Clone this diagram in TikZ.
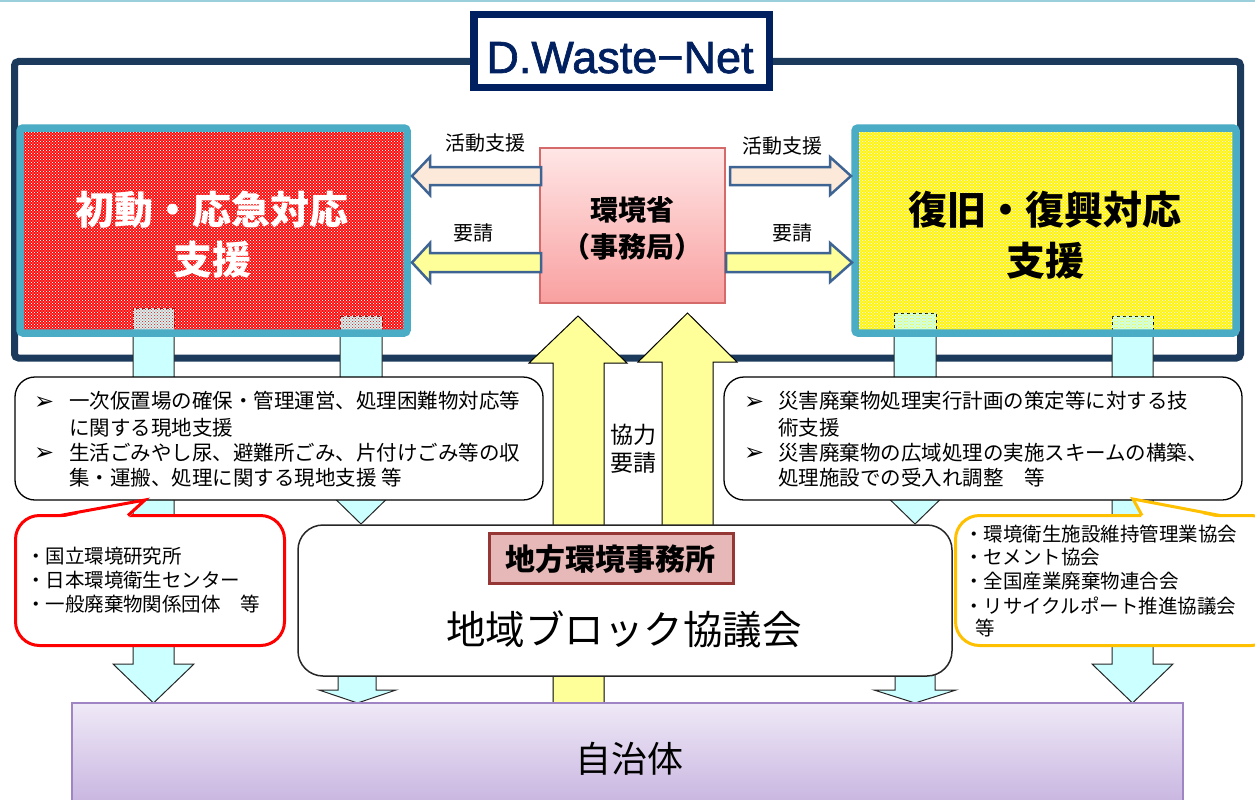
\documentclass[tikz,border=0pt]{standalone}
\usepackage{fontspec}
\setmainfont{Noto Sans CJK JP}
\newfontfamily\dvfont{DejaVu Sans}
\newfontfamily\libfont[FakeBold=1.5]{Liberation Sans}
\usetikzlibrary{patterns}
\pgfdeclarepatternformonly{meshdots}{\pgfqpoint{-1pt}{-1pt}}{\pgfqpoint{2.5pt}{2.5pt}}{\pgfqpoint{3pt}{3pt}}{%
  \pgfpathcircle{\pgfqpoint{0pt}{0pt}}{0.6pt}%
  \pgfpathcircle{\pgfqpoint{1.5pt}{1.5pt}}{0.6pt}%
  \pgfusepath{fill}}
\newcommand\fsz[1]{\fontsize{#1}{#1}\selectfont}
\definecolor{topline}{HTML}{9CCFDC}
\definecolor{framenavy}{HTML}{1B3A5C}
\definecolor{dwnavy}{HTML}{002060}
\definecolor{tealb}{HTML}{4BACC6}
\definecolor{peach}{HTML}{FDE9D9}
\definecolor{lyellow}{HTML}{FFFF99}
\definecolor{arrowblue}{HTML}{3E6493}
\definecolor{cyanf}{HTML}{CCFFFF}
\definecolor{pinktop}{HTML}{FFE6E6}
\definecolor{pinkbot}{HTML}{F9A0A0}
\definecolor{pinkb}{HTML}{D46A6A}
\definecolor{lavtop}{HTML}{EFE9F7}
\definecolor{lavbot}{HTML}{C6B2DF}
\definecolor{lavb}{HTML}{9F85C4}
\definecolor{jmfill}{HTML}{E6B8B7}
\definecolor{jmborder}{HTML}{953735}
\definecolor{orangeb}{HTML}{FFC000}
\begin{document}
\begin{tikzpicture}[x=1pt,y=-1pt,
  box/.style={rectangle, inner sep=0pt, outer sep=0pt},
  lbl/.style={inner sep=0pt, outer sep=0pt},
  tealframe/.style={draw=tealb, line width=7.5, rounded corners=3},
  cyanarr/.style={fill=cyanf, draw=black!85, line width=1},
  flatarr/.style={draw=arrowblue, line width=2.5},
  yarr/.style={fill=lyellow, draw=black, line width=1},
  bulletbox/.style={box, draw=black, line width=1.3, fill=white, rounded corners=20},
  bodytext/.style={lbl, anchor=base west, font=\fsz{20.5}},
  bullet/.style={lbl, anchor=base west, font=\dvfont\fsz{24}},
  calltext/.style={lbl, anchor=base west, font=\fsz{19.5}},
  arrlabel/.style={lbl, font=\fsz{20}}
]
\useasboundingbox (0,0) rectangle (1255,800);
\fill[white] (0,0) rectangle (1255,800);
\fill[topline] (0,0) rectangle (1255,2);

% outer frame
\draw[framenavy, line width=7, rounded corners=4] (14.5,61.5) rectangle (1240.5,358);

% big coloured boxes (fill)
\node[box, minimum width=387, minimum height=205, fill=red,
      postaction={pattern=meshdots, pattern color=white}] (redbox) at (213.5,230.5) {};
\node[box, minimum width=381, minimum height=205, fill=yellow,
      postaction={pattern=meshdots, pattern color=white}] (yelbox) at (1045.5,230.5) {};

% column tops inside the boxes
\draw[draw=red!60!black, dashed, line width=0.8, fill=cyanf,
      postaction={pattern=meshdots, pattern color=red!85}] (133,308) rectangle (174,330);
\draw[draw=red!60!black, dashed, line width=0.8, fill=cyanf,
      postaction={pattern=meshdots, pattern color=red!85}] (340,316) rectangle (382,330);
\draw[draw=black, dashed, line width=0.8, fill=cyanf,
      postaction={pattern=meshdots, pattern color=yellow}] (894,313) rectangle (936,330);
\draw[draw=black, dashed, line width=0.8, fill=cyanf,
      postaction={pattern=meshdots, pattern color=yellow}] (1112,316) rectangle (1153,330);

% cyan down arrows from the big boxes
\draw[cyanarr] (133,333) -- (133,664) -- (113,664) -- (153.5,703) -- (194,664) -- (174,664) -- (174,333) -- cycle;
\draw[cyanarr] (340,333) -- (340,484) -- (320,484) -- (361,524) -- (402,484) -- (382,484) -- (382,333) -- cycle;
\draw[cyanarr] (894,333) -- (894,484) -- (874,484) -- (915,524) -- (956,484) -- (936,484) -- (936,333) -- cycle;
\draw[cyanarr] (1112,333) -- (1112,664) -- (1092,664) -- (1132.5,703) -- (1173,664) -- (1153,664) -- (1153,333) -- cycle;

% big box borders
\draw[tealframe] (redbox.north west) rectangle (redbox.south east);
\draw[tealframe] (yelbox.north west) rectangle (yelbox.south east);

% big box texts
\node[lbl, font=\bfseries\fsz{39}, text=white] (r1) at (212,210) {初動・応急対応};
\node[lbl, font=\bfseries\fsz{39}, text=white] (r2) at (212,260) {支援};
\node[lbl, font=\bfseries\fsz{39}] (y1) at (1045,210) {復旧・復興対応};
\node[lbl, font=\bfseries\fsz{39}] (y2) at (1045,261) {支援};

% centre box
\node[box, draw=pinkb, line width=1.5, top color=pinktop, bottom color=pinkbot,
      minimum width=185, minimum height=155] (kankyo) at (632.5,225.5) {};
\node[lbl, font=\bfseries\fsz{28}] (k1) at (632,210) {環境省};
\node[lbl, font=\bfseries\fsz{28}] (k2) at (632,247) {（事務局）};

% horizontal flat arrows
\draw[flatarr, fill=peach] (541,167) -- (430,167) -- (430,157) -- (412,176) -- (430,195) -- (430,185) -- (541,185) -- cycle;
\draw[flatarr, fill=lyellow] (541,253) -- (430,253) -- (430,243) -- (412,262.5) -- (430,282) -- (430,272) -- (541,272) -- cycle;
\draw[flatarr, fill=peach] (730,167) -- (830,167) -- (830,157) -- (851,176) -- (830,195) -- (830,185) -- (730,185) -- cycle;
\draw[flatarr, fill=lyellow] (726,253) -- (830,253) -- (830,243) -- (852,262.5) -- (830,282) -- (830,272) -- (726,272) -- cycle;
\node[arrlabel] (la1) at (485,143) {活動支援};
\node[arrlabel] (la2) at (473,233) {要請};
\node[arrlabel] (ra1) at (782,146) {活動支援};
\node[arrlabel] (ra2) at (792,233) {要請};

% D.Waste-Net title box
\node[box, draw=dwnavy, line width=7.5, fill=white, minimum width=295.5, minimum height=72.5] (dwbox) at (621.5,51) {};
\node[lbl, anchor=base, font=\libfont\fsz{45}, text=dwnavy] (dwtext) at (620,73) {D.Waste−Net};

% big yellow up arrows
\draw[yarr] (553,703) -- (553,363) -- (529,363) -- (578,316) -- (627,363) -- (604,363) -- (604,703) -- cycle;
\draw[yarr] (662,600) -- (662,362) -- (638,362) -- (687.5,313) -- (737,362) -- (713,362) -- (713,600) -- cycle;
\node[lbl, font=\fsz{23}] (kr1) at (633.5,435) {協力};
\node[lbl, font=\fsz{23}] (kr2) at (633.5,463) {要請};

% bullet boxes
\node[bulletbox, minimum width=528, minimum height=123] (lbox) at (279,438.5) {};
\node[bulletbox, minimum width=518, minimum height=123] (rbox) at (983,438.5) {};
\node[bullet] (lb1) at (34,409) {➢};
\node[bodytext] (lt1) at (69,408.5) {一次仮置場の確保・管理運営、処理困難物対応等};
\node[bodytext] (lt2) at (69,435) {に関する現地支援};
\node[bullet] (lb2) at (34,460.5) {➢};
\node[bodytext] (lt3) at (69,460) {生活ごみやし尿、避難所ごみ、片付けごみ等の収};
\node[bodytext] (lt4) at (69,485) {集・運搬、処理に関する現地支援 等};
\node[bullet] (rb1) at (744,409) {➢};
\node[bodytext] (rt1) at (778,408.5) {災害廃棄物処理実行計画の策定等に対する技};
\node[bodytext] (rt2) at (778,435) {術支援};
\node[bullet] (rb2) at (744,460.5) {➢};
\node[bodytext] (rt3) at (778,460) {災害廃棄物の広域処理の実施スキームの構築、};
\node[bodytext] (rt4) at (778,485) {処理施設での受入れ調整　等};

% red callout
\node[box, draw=red, line width=3, fill=white, rounded corners=24, minimum width=269, minimum height=130] (redcall) at (150,580.5) {};
\fill[white] (60,518) -- (145,500) -- (128,518) -- cycle;
\draw[red, line width=3, line join=miter] (60,515.5) -- (145,500) -- (128,515.5);
\node[calltext] (c1) at (26,563.5) {・国立環境研究所};
\node[calltext] (c2) at (26,587.5) {・日本環境衛生センター};
\node[calltext] (c3) at (26,611.5) {・一般廃棄物関係団体　等};

% orange callout
\node[box, draw=orangeb, line width=3, fill=white, rounded corners=24, minimum width=319.5, minimum height=130] (orcall) at (1115.25,580.5) {};
\fill[white] (1142,518) -- (1133,499) -- (1220,518) -- cycle;
\draw[orangeb, line width=3, line join=miter] (1142,515.5) -- (1133,499) -- (1220,515.5);
\node[calltext] (o1) at (964,541) {・環境衛生施設維持管理業協会};
\node[calltext] (o2) at (964,564.5) {・セメント協会};
\node[calltext] (o3) at (964,588) {・全国産業廃棄物連合会};
\node[calltext] (o4) at (964,613) {・リサイクルポート推進協議会};
\node[calltext] (o5) at (975,635) {等};

% small cyan arrows below regional council
\draw[cyanarr] (338,660) -- (338,690) -- (319,690) -- (357.5,703) -- (396,690) -- (376,690) -- (376,660) -- cycle;
\draw[cyanarr] (895,660) -- (895,690) -- (874,690) -- (915,703) -- (956,690) -- (935,690) -- (935,660) -- cycle;

% regional block council
\node[box, draw=black!85, line width=1.5, fill=white, rounded corners=25, minimum width=654, minimum height=151] (chiiki) at (625,600.5) {};
\node[box, draw=jmborder, line width=3, fill=jmfill, minimum width=244, minimum height=50] (jimusho) at (611.5,558.5) {};
\node[lbl, font=\bfseries\fsz{30}] (jmtext) at (610,559) {地方環境事務所};
\node[lbl, font=\fsz{39.5}] (chtext) at (624,629) {地域ブロック協議会};

% municipalities
\node[box, draw=lavb, line width=1.5, top color=lavtop, bottom color=lavbot, minimum width=1111, minimum height=107] (jichi) at (627.5,756.5) {};
\node[lbl, font=\fsz{36}] (jtext) at (629.5,759) {自治体};
\end{tikzpicture}
\end{document}
